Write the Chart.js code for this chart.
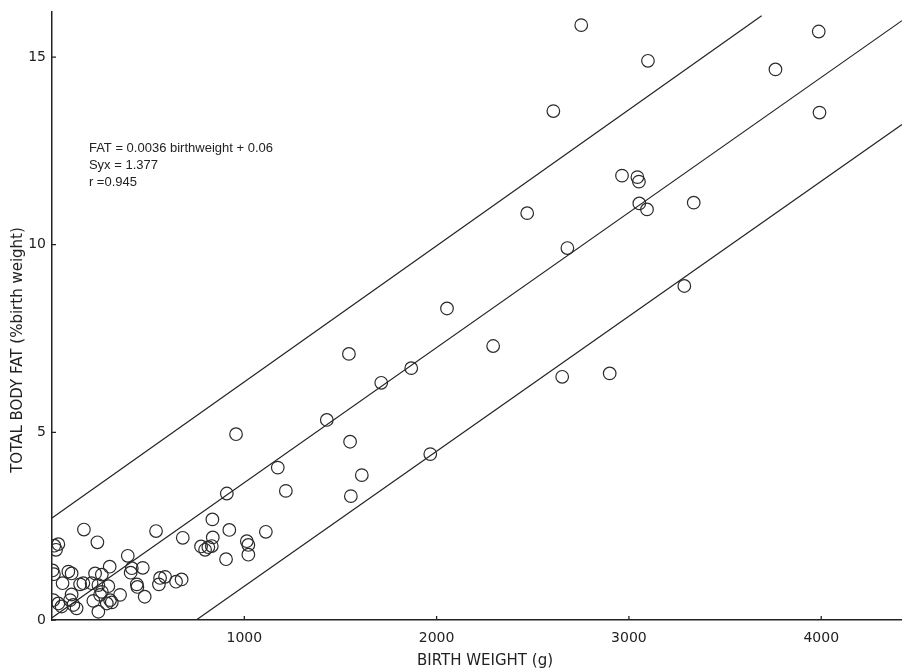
<!DOCTYPE html>
<html>
<head>
<meta charset="utf-8">
<script src="https://cdn.jsdelivr.net/npm/chart.js@4.4.0/dist/chart.umd.min.js"></script>
<style>
body{margin:0;background:#fff;}
#wrap{position:relative;width:902px;height:668px;}
</style>
</head>
<body>
<div id="wrap"><canvas id="myChart"></canvas></div>
<script>
// birth weight (g) and total body fat (% birth weight)
const birthWeight=[2752,3987,3099,3762,2607,3991,2964,3044,3052,3054,3094,3337,2471,2680,3288,
  2054,2294,1544,1868,1712,2653,2900,1429,957,1550,1967,1174,1611,1216,909,1554,
  834,922,1112,680,836,1013,1021,1021,905,775,796,813,831,541,166,236,33,12,21,
  394,415,472,409,300,3,10,85,102,224,259,55,146,163,206,241,293,441,444,562,588,556,645,674,
  482,354,302,250,102,94,7,33,50,111,128,215,241,285,311,259];
const bodyFat=[15.85,15.68,14.9,14.67,13.56,13.52,11.84,11.8,11.68,11.1,10.94,11.12,10.84,9.91,8.9,
  8.3,7.3,7.09,6.71,6.32,6.48,6.57,5.33,4.95,4.75,4.42,4.06,3.86,3.44,3.37,3.3,
  2.68,2.4,2.35,2.19,2.2,2.1,2.0,1.74,1.62,1.96,1.87,1.94,1.97,2.37,2.41,2.07,2.02,1.98,1.87,
  1.71,1.38,1.39,1.26,1.42,1.32,1.22,1.29,1.24,1.24,1.21,0.98,0.95,0.98,0.98,0.93,0.9,0.95,0.88,1.12,1.15,0.95,1.02,1.08,
  0.62,0.67,0.53,0.67,0.68,0.53,0.53,0.44,0.36,0.4,0.31,0.51,0.22,0.44,0.47,0.75];

// regression line (middle) and +/- 2 Syx limits, end points
const upperX=[0,3690],  upperY=[2.72,16.1];
const fitX=[0,4420],    fitY=[0.06,15.97];
const lowerX=[750,4420],lowerY=[0,13.2];

const xTicks=[1000,2000,3000,4000];
const yTicks=[0,5,10,15];
const noteLines=["FAT = 0.0036 birthweight + 0.06","Syx = 1.377","r =0.945"];
const xTitle='BIRTH WEIGHT (g)';
const yTitle='TOTAL BODY FAT (%birth weight)';

const ink='#222';
const fontFam="'DejaVu Sans', Verdana, sans-serif";
const noteFam="'Liberation Sans', Arial, sans-serif";

function pts(xs,ys){ return xs.map((x,i)=>({x:x,y:ys[i]})); }
function lineSet(xs,ys){
  return {data:pts(xs,ys),showLine:true,pointRadius:0,borderColor:ink,borderWidth:1.2,fill:false};
}

const extras={
  id:'extras',
  afterDraw(chart){
    const c=chart.ctx, xs=chart.scales.x, ys=chart.scales.y;
    const a=chart.chartArea;
    c.save();
    // small inward ticks
    c.strokeStyle=ink; c.lineWidth=1.3;
    c.beginPath();
    xTicks.forEach(v=>{const p=xs.getPixelForValue(v); c.moveTo(p,a.bottom); c.lineTo(p,a.bottom-4);});
    yTicks.forEach(v=>{const p=ys.getPixelForValue(v); c.moveTo(a.left,p); c.lineTo(a.left+4,p);});
    c.stroke();
    c.fillStyle=ink;
    // equation note
    c.font="13px "+noteFam;
    c.textBaseline='middle';
    c.textAlign='left';
    const nx=xs.getPixelForValue(192);
    noteLines.forEach((t,i)=>c.fillText(t,nx,ys.getPixelForValue(12.56)+i*17));
    // axis titles
    c.font="15px "+fontFam;
    c.textAlign='center';
    c.fillText(xTitle,485,661);
    c.translate(18,350);
    c.rotate(-Math.PI/2);
    c.fillText(yTitle,0,0);
    c.restore();
  }
};

new Chart(document.getElementById('myChart').getContext('2d'),{
  type:'scatter',
  data:{datasets:[
    {data:pts(birthWeight,bodyFat),pointStyle:'circle',pointRadius:6.3,pointBorderWidth:1.2,
     pointBackgroundColor:'rgba(0,0,0,0)',pointBorderColor:'#2a2a2a'},
    lineSet(upperX,upperY),
    lineSet(fitX,fitY),
    lineSet(lowerX,lowerY)
  ]},
  options:{
    responsive:true,
    maintainAspectRatio:false,
    animation:false,
    layout:{autoPadding:false,padding:{top:12,right:0,left:0,bottom:0}},
    plugins:{legend:{display:false},tooltip:{enabled:false}},
    scales:{
      x:{
        type:'linear',min:0,max:4420,
        grid:{display:false,drawTicks:false},
        border:{display:true,color:ink,width:1.5},
        afterBuildTicks(s){ s.ticks=xTicks.map(v=>({value:v})); },
        afterFit(s){ s.height=48; s.paddingLeft=0; s.paddingRight=0; },
        ticks:{color:ink,padding:10,maxRotation:0,font:{family:fontFam,size:14},callback:v=>String(v)}
      },
      y:{
        type:'linear',min:0,max:16.2,
        grid:{display:false,drawTicks:false},
        border:{display:true,color:ink,width:1.5},
        afterBuildTicks(s){ s.ticks=yTicks.map(v=>({value:v})); },
        afterFit(s){ s.width=52; s.paddingTop=0; s.paddingBottom=0; },
        ticks:{color:ink,padding:6,font:{family:fontFam,size:14},callback:v=>String(v)}
      }
    }
  },
  plugins:[extras]
});
</script>
</body>
</html>
